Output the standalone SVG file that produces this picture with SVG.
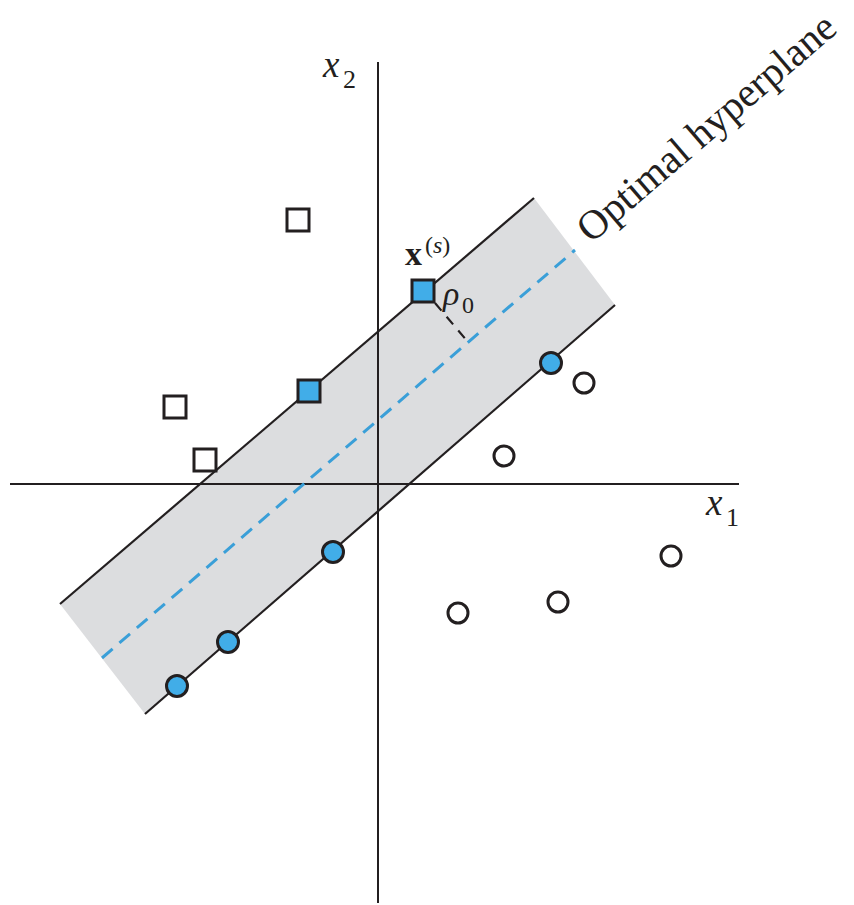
<svg xmlns="http://www.w3.org/2000/svg" width="854" height="905" viewBox="0 0 854 905">
<style>
.ln{stroke:#231f20;stroke-width:2.2;fill:none}
.ax{stroke:#231f20;stroke-width:2;fill:none}
.sqw{fill:#ffffff;stroke:#231f20;stroke-width:3}
.sqb{fill:#41ade8;stroke:#231f20;stroke-width:3}
.cw{fill:#ffffff;stroke:#231f20;stroke-width:3}
.cb{fill:#41ade8;stroke:#231f20;stroke-width:3}
.t{font-family:"Liberation Serif","DejaVu Serif",serif;fill:#231f20}
.it{font-style:italic}
</style>
<rect width="854" height="905" fill="#ffffff"/>
<g id="margin-band">
<polygon points="60,604 534,198 615,305 145,714" fill="#dcdddf"/>
<line class="ln" x1="60" y1="604" x2="534" y2="198"/>
<line class="ln" x1="145" y1="714" x2="615" y2="305"/>
</g>
<g id="axes">
<line class="ax" x1="10" y1="484" x2="739" y2="484"/>
<line class="ax" x1="378" y1="62" x2="378" y2="903"/>
</g>
<g id="connectors">
<line id="hyperplane" x1="102" y1="658" x2="575" y2="250" stroke="#3a9fd8" stroke-width="3" stroke-dasharray="14,9"/>
<line id="rho-line" x1="435" y1="303" x2="468" y2="342" stroke="#231f20" stroke-width="2.2" stroke-dasharray="10,8"/>
</g>
<g id="class1-squares">
<rect class="sqw" x="287" y="209" width="22" height="22"/>
<rect class="sqw" x="164" y="396" width="22" height="22"/>
<rect class="sqw" x="194" y="449" width="22" height="22"/>
<rect class="sqb" x="412" y="280" width="22" height="22"/>
<rect class="sqb" x="298" y="380" width="22" height="22"/>
</g>
<g id="class2-circles">
<circle class="cw" cx="584" cy="383" r="10"/>
<circle class="cw" cx="504" cy="456" r="10"/>
<circle class="cw" cx="671" cy="556" r="10"/>
<circle class="cw" cx="558" cy="602" r="10"/>
<circle class="cw" cx="458" cy="613" r="10"/>
<circle class="cb" cx="551" cy="363" r="10.5"/>
<circle class="cb" cx="333" cy="552" r="10.5"/>
<circle class="cb" cx="228" cy="642" r="10.5"/>
<circle class="cb" cx="177" cy="686" r="10.5"/>
</g>
<g id="labels">
<text class="t it" x="323" y="77" font-size="37">x</text>
<text class="t" x="343" y="88" font-size="26">2</text>
<text class="t it" x="706" y="515" font-size="37">x</text>
<text class="t" x="726" y="526" font-size="26">1</text>
<text class="t" x="405" y="265" font-size="34" font-weight="bold">x</text>
<text class="t" x="425" y="253" font-size="24">(<tspan font-style="italic">s</tspan>)</text>
<text class="t it" x="443" y="305" font-size="34">ρ</text>
<text class="t" x="462" y="313" font-size="24">0</text>
<text class="t" x="0" y="0" font-size="41" transform="translate(591,244) rotate(-40.6)">Optimal hyperplane</text>
</g>
</svg>
